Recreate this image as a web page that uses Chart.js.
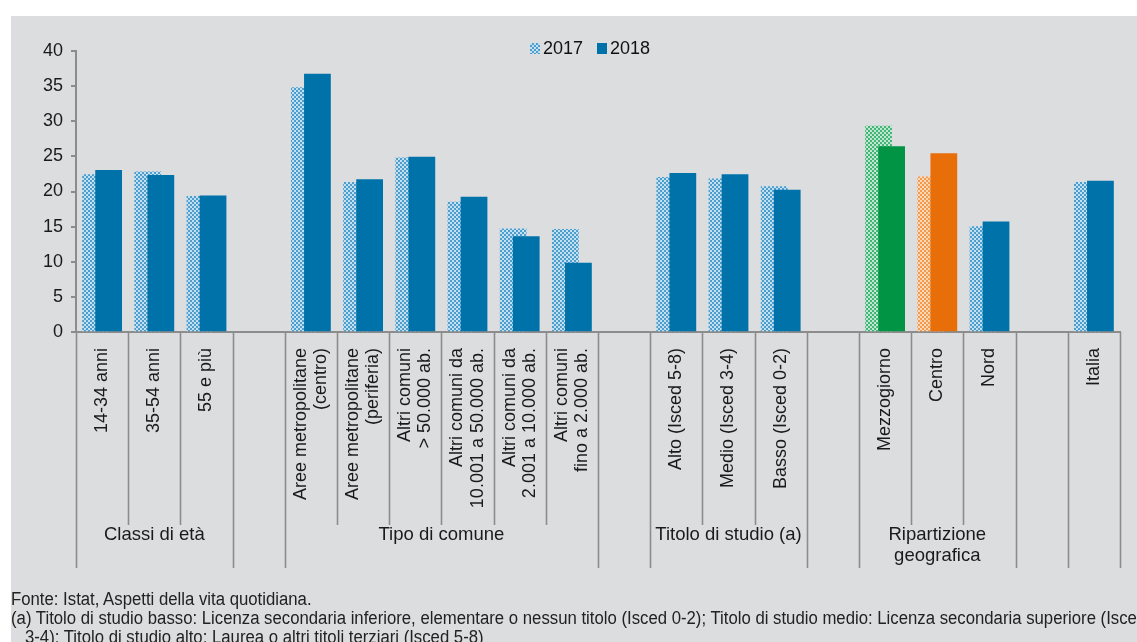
<!DOCTYPE html>
<html><head><meta charset="utf-8">
<script src="https://cdn.jsdelivr.net/npm/chart.js@4.4.1/dist/chart.umd.min.js"></script>
<style>
html,body{margin:0;padding:0;background:#fff;width:1137px;height:642px;overflow:hidden;font-family:'Liberation Sans',Arial,sans-serif;}
#panel{position:absolute;left:11px;top:16px;width:1126px;height:626px;background:#dcdddf;}
#wrap{position:absolute;left:0;top:0;width:1137px;height:590px;}
#legend{position:absolute;top:38px;left:530px;display:flex;align-items:center;font-size:18px;color:#111;line-height:20px;}
#legend .item{display:flex;align-items:center;margin-right:14px;}
#legend canvas{display:block;margin-right:3px;}
#foot{position:absolute;left:11px;top:590px;width:1300px;font-size:18px;line-height:19px;color:#222;white-space:nowrap;transform-origin:0 0;transform:scaleX(0.93);}
#foot .ind{padding-left:15px;}
</style></head>
<body>
<div id="panel"></div>
<div id="wrap"><canvas id="c" width="1137" height="590"></canvas></div>
<div id="legend"></div>
<div id="foot">
<div>Fonte: Istat, Aspetti della vita quotidiana.</div>
<div>(a) Titolo di studio basso: Licenza secondaria inferiore, elementare o nessun titolo (Isced 0-2); Titolo di studio medio: Licenza secondaria superiore (Isced</div>
<div class="ind">3-4); Titolo di studio alto: Laurea o altri titoli terziari (Isced 5-8)</div>
</div>
<script>
// ---- data ----
const categories = [
  '14-34 anni', '35-54 anni', '55 e più', '',
  ['Aree metropolitane','(centro)'], ['Aree metropolitane','(periferia)'],
  ['Altri comuni','> 50.000 ab.'], ['Altri comuni da','10.001 a 50.000 ab.'],
  ['Altri comuni da','2.001 a 10.000 ab.'], ['Altri comuni','fino a 2.000 ab.'], '',
  'Alto (Isced 5-8)', 'Medio (Isced 3-4)', 'Basso (Isced 0-2)', '',
  'Mezzogiorno', 'Centro', 'Nord', '', 'Italia'
];
const seriesNames = ['2017', '2018'];
const values2017 = [22.4, 22.8, 19.3, null, 34.8, 21.3, 24.8, 18.5, 14.7, 14.6, null, 22.0, 21.8, 20.7, null, 29.3, 22.1, 15.0, null, 21.3];
const values2018 = [23.0, 22.3, 19.4, null, 36.7, 21.7, 24.9, 19.2, 13.6, 9.8, null, 22.6, 22.4, 20.2, null, 26.4, 25.4, 15.7, null, 21.5];
const groupLabels = ['Classi di età', '', 'Tipo di comune', '', 'Titolo di studio (a)', '', ['Ripartizione','geografica'], '', ''];
const groupSizes = [3, 1, 6, 1, 3, 1, 3, 1, 1];
const yTicks = [0, 5, 10, 15, 20, 25, 30, 35, 40];

// ---- styles ----
const barTheme = ['blue','blue','blue','blue','blue','blue','blue','blue','blue','blue','blue','blue','blue','blue','blue','green','orange','blue','blue','blue'];
const solid = {blue:'#0072aa', green:'#009444', orange:'#e86e0a'};
const patCols = {blue:['#c3e0f1','#4d9dcd'], green:['#bfe7cf','#45b477'], orange:['#fdd7b6','#f29a50']};
function makePattern(light, dark){
  const p = document.createElement('canvas'); p.width = 4; p.height = 4;
  const g = p.getContext('2d');
  g.fillStyle = dark; g.fillRect(0,0,4,4);
  g.fillStyle = light; g.fillRect(0,0,2,2); g.fillRect(2,2,2,2);
  return g.createPattern(p, 'repeat');
}
const patterns = {};
for (const k in patCols) patterns[k] = makePattern(patCols[k][0], patCols[k][1]);

const AXIS = '#8c8c8c';
const FONT = "'Liberation Sans', Arial, sans-serif";

// legend (HTML)
const lg = document.getElementById('legend');
seriesNames.forEach((name, i) => {
  const it = document.createElement('div'); it.className = 'item';
  const sw = document.createElement('canvas'); sw.width = 10; sw.height = 11;
  const g = sw.getContext('2d');
  g.fillStyle = i === 0 ? patterns.blue : solid.blue; g.fillRect(0,0,10,11);
  const t = document.createElement('span'); t.textContent = name;
  it.appendChild(sw); it.appendChild(t); lg.appendChild(it);
});

const drawOrder = {
  id: 'drawOrder',
  beforeDatasetsDraw(chart){
    const ctx = chart.ctx, ca = chart.chartArea;
    for (const m of chart.getSortedVisibleDatasetMetas()) {
      ctx.save(); ctx.beginPath(); ctx.rect(ca.left, ca.top - 5, ca.width, ca.height + 5); ctx.clip();
      m.controller.draw(); ctx.restore();
    }
    return false;
  }
};
const fixMultiline = {
  id: 'fixMultiline',
  beforeDraw(chart){
    const s = chart.scales.x;
    s.getLabelItems().forEach(it => {
      if (!it._adj && Array.isArray(it.label) && it.label.length > 1) {
        it.textOffset -= (it.label.length - 1) * it.font.lineHeight / 2;
        it._adj = true;
      }
    });
  }
};
const groups = {
  id: 'groups',
  afterDraw(chart){
    const s = chart.scales.x, ctx = chart.ctx, n = categories.length;
    const bound = i => i === 0 ? s.left : (i === n ? s.right : (s.getPixelForValue(i - 1) + s.getPixelForValue(i)) / 2);
    const groupStarts = new Set(); let acc = 0;
    groupSizes.forEach(sz => { groupStarts.add(acc); acc += sz; }); groupStarts.add(acc);
    ctx.save();
    ctx.strokeStyle = AXIS; ctx.lineWidth = 1.6;
    for (let i = 0; i <= n; i++) {
      const x = Math.round(bound(i)) + 0.5;
      ctx.beginPath(); ctx.moveTo(x, s.top); ctx.lineTo(x, s.top + (groupStarts.has(i) ? 236 : 193)); ctx.stroke();
    }
    ctx.fillStyle = '#1a1a1a'; ctx.font = '18.5px ' + FONT; ctx.textAlign = 'center'; ctx.textBaseline = 'middle';
    acc = 0;
    groupLabels.forEach((lab, gi) => {
      const x = (bound(acc) + bound(acc + groupSizes[gi])) / 2;
      const lines = Array.isArray(lab) ? lab : [lab];
      lines.forEach((ln, li) => ctx.fillText(ln, x, s.top + 203 + li * 21));
      acc += groupSizes[gi];
    });
    ctx.restore();
  }
};

new Chart(document.getElementById('c'), {
  type: 'bar',
  data: {
    labels: categories,
    datasets: [
      { label: seriesNames[0], data: values2017, backgroundColor: c => patterns[barTheme[c.dataIndex]], borderWidth: 0 },
      { label: seriesNames[1], data: values2018, backgroundColor: c => solid[barTheme[c.dataIndex]], borderWidth: 0 }
    ]
  },
  options: {
    responsive: false, animation: false, devicePixelRatio: 1,
    categoryPercentage: 0.5, barPercentage: 2.0,
    layout: { padding: { top: 51, right: 17, left: 0, bottom: 0 } },
    plugins: { legend: { display: false }, tooltip: { enabled: false } },
    scales: {
      x: {
        z: 1,
        grid: { display: false },
        border: { display: true, color: AXIS, width: 2 },
        ticks: { autoSkip: false, minRotation: 90, maxRotation: 90, padding: 8, color: '#1a1a1a', font: { family: FONT, size: 18, lineHeight: 1.12 } },
        afterFit: s => { s.height = 590 - 332; }
      },
      y: {
        min: 0, max: 40,
        afterBuildTicks: s => { s.ticks = yTicks.map(v => ({ value: v })); },
        grid: { drawOnChartArea: false, drawTicks: true, tickLength: 5, color: AXIS, lineWidth: 2 },
        border: { display: true, color: AXIS, width: 2 },
        ticks: { padding: 8, color: '#1a1a1a', font: { family: FONT, size: 18 } },
        afterFit: s => { s.width = 76; }
      }
    }
  },
  plugins: [drawOrder, fixMultiline, groups]
});
</script>
</body></html>
